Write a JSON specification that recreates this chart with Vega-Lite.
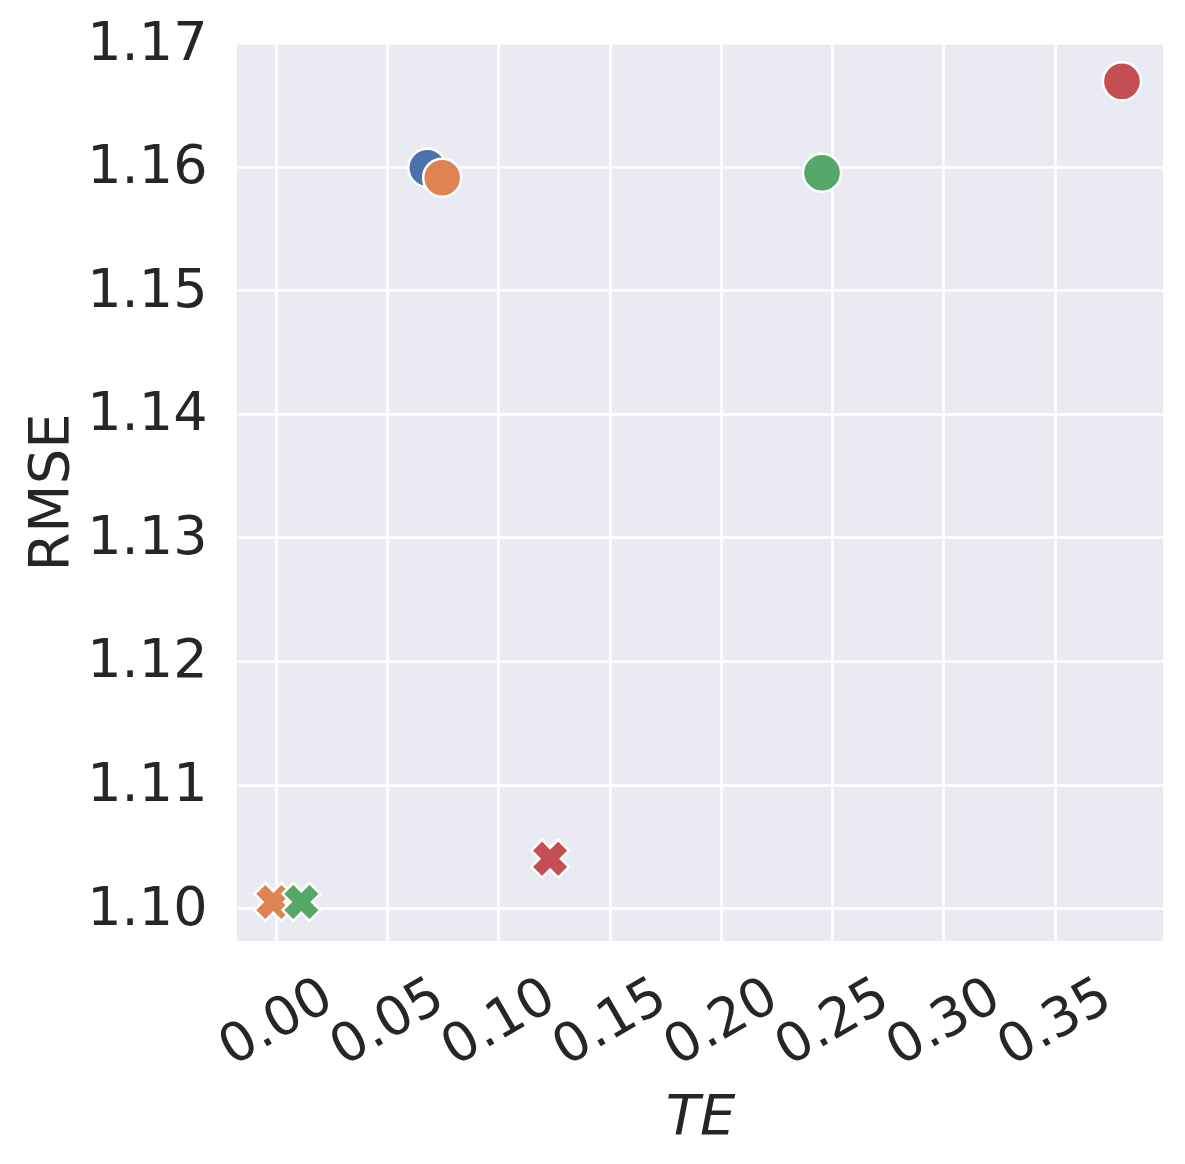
{
  "$schema": "https://vega.github.io/schema/vega-lite/v6.json",
  "autosize": {"type": "none"},
  "width": 926,
  "height": 898,
  "padding": {"left": 237, "top": 43, "right": 22, "bottom": 223},
  "background": "white",
  "config": {
    "font": "DejaVu Sans",
    "view": {"fill": "#EAEAF2", "stroke": null},
    "axis": {
      "domain": false,
      "ticks": false,
      "gridColor": "white",
      "gridWidth": 2.5,
      "gridOpacity": 1,
      "labelFont": "DejaVu Sans",
      "labelFontSize": 54,
      "labelColor": "#262626",
      "titleFont": "DejaVu Sans",
      "titleFontSize": 56,
      "titleFontWeight": "normal",
      "titleColor": "#262626"
    }
  },
  "data": {
    "values": [
      {"method": "A", "marker": "o", "TE": 0.0681, "RMSE": 1.1599},
      {"method": "B", "marker": "o", "TE": 0.0748, "RMSE": 1.1591},
      {"method": "C", "marker": "o", "TE": 0.2455, "RMSE": 1.1595},
      {"method": "D", "marker": "o", "TE": 0.3803, "RMSE": 1.1669},
      {"method": "A", "marker": "X", "TE": -0.0011, "RMSE": 1.1005},
      {"method": "B", "marker": "X", "TE": -0.0011, "RMSE": 1.1005},
      {"method": "C", "marker": "X", "TE": 0.0115, "RMSE": 1.1005},
      {"method": "D", "marker": "X", "TE": 0.1233, "RMSE": 1.1040}
    ]
  },
  "mark": {"type": "point", "filled": true, "opacity": 1, "stroke": "white", "strokeWidth": 2.5, "angle": 45},
  "encoding": {
    "x": {
      "field": "TE", "type": "quantitative",
      "scale": {"domain": [-0.01743, 0.39875], "zero": false, "nice": false},
      "axis": {
        "title": "TE",
        "titleFontStyle": "italic",
        "titleBaseline": "alphabetic",
        "titleY": 192,
        "values": [0, 0.05, 0.1, 0.15, 0.2, 0.25, 0.3, 0.35],
        "format": ".2f",
        "labelAngle": -30,
        "labelAlign": "center",
        "labelBaseline": "middle",
        "labelPadding": 81,
        "labelOverlap": false,
        "labelFlush": false
      }
    },
    "y": {
      "field": "RMSE", "type": "quantitative",
      "scale": {"domain": [1.09734, 1.17], "zero": false, "nice": false},
      "axis": {
        "title": "RMSE",
        "values": [1.10, 1.11, 1.12, 1.13, 1.14, 1.15, 1.16, 1.17],
        "format": ".2f",
        "labelPadding": 30,
        "labelOverlap": false,
        "labelFlush": false,
        "titleBaseline": "alphabetic",
        "titleX": -170
      }
    },
    "color": {
      "field": "method", "type": "nominal",
      "scale": {"domain": ["A", "B", "C", "D"], "range": ["#4C72B0", "#DD8452", "#55A868", "#C44E52"]},
      "legend": null
    },
    "shape": {
      "field": "marker", "type": "nominal",
      "scale": {"domain": ["o", "X"], "range": ["circle", "cross"]},
      "legend": null
    },
    "size": {
      "field": "marker", "type": "nominal",
      "scale": {"domain": ["o", "X"], "range": [1450, 1450]},
      "legend": null
    }
  }
}
